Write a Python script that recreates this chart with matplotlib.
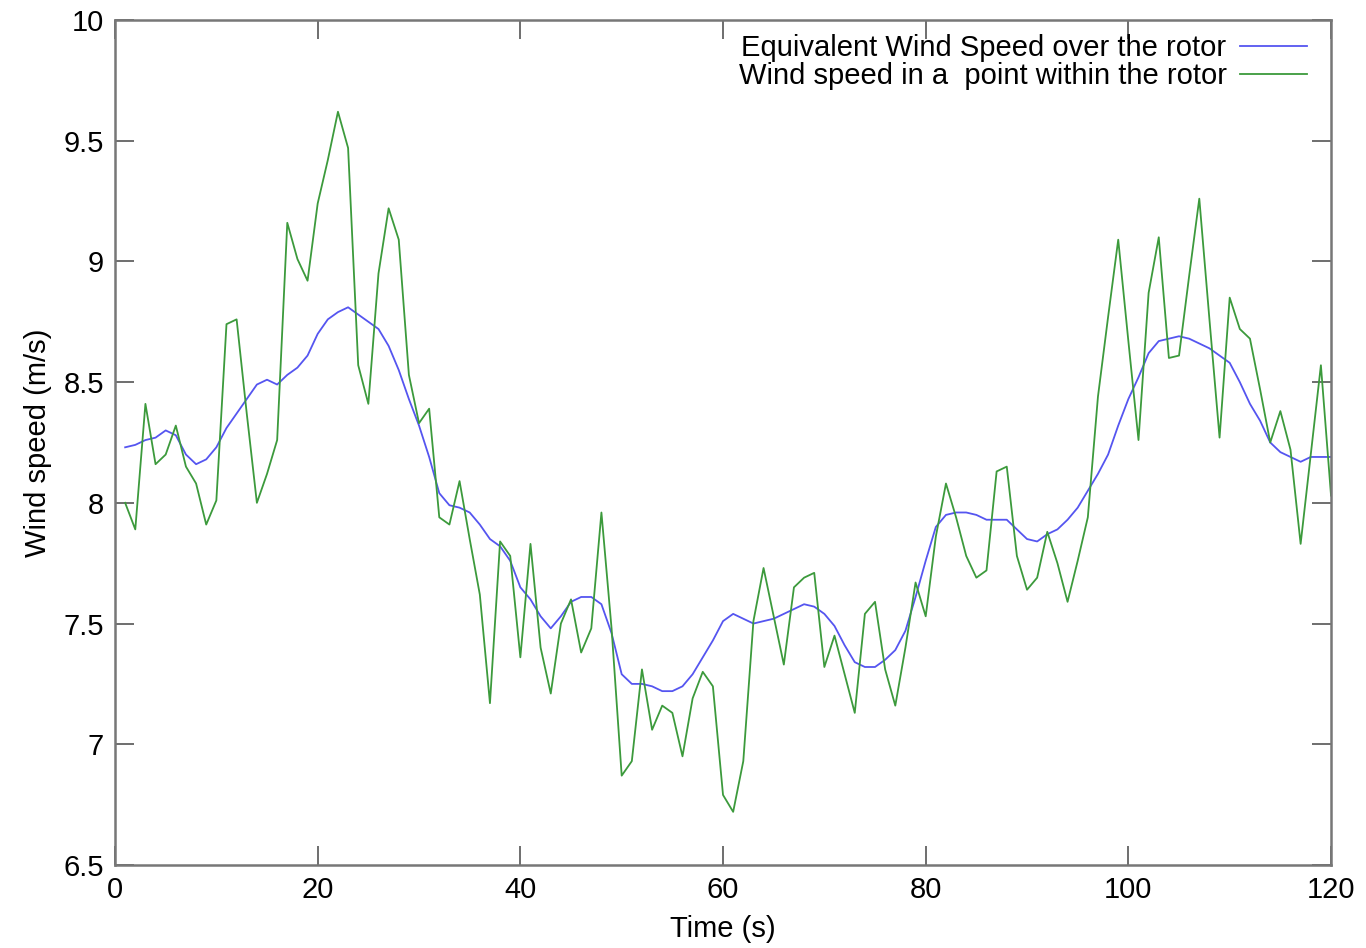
import matplotlib
matplotlib.use("Agg")
import matplotlib.pyplot as plt
from matplotlib.ticker import FormatStrFormatter

plt.rcParams['font.family'] = ['Liberation Sans', 'DejaVu Sans']

# time in seconds
time_s = list(range(1, 121))

# equivalent wind speed over the rotor (blue)
equiv_speed = [
    8.23, 8.24, 8.26, 8.27, 8.30, 8.28, 8.20, 8.16, 8.18, 8.23,
    8.31, 8.37, 8.43, 8.49, 8.51, 8.49, 8.53, 8.56, 8.61, 8.70,
    8.76, 8.79, 8.81, 8.78, 8.75, 8.72, 8.65, 8.55, 8.43, 8.32,
    8.19, 8.04, 7.99, 7.98, 7.96, 7.91, 7.85, 7.82, 7.76, 7.65,
    7.60, 7.53, 7.48, 7.53, 7.59, 7.61, 7.61, 7.58, 7.46, 7.29,
    7.25, 7.25, 7.24, 7.22, 7.22, 7.24, 7.29, 7.36, 7.43, 7.51,
    7.54, 7.52, 7.50, 7.51, 7.52, 7.54, 7.56, 7.58, 7.57, 7.54,
    7.49, 7.41, 7.34, 7.32, 7.32, 7.35, 7.39, 7.47, 7.61, 7.76,
    7.90, 7.95, 7.96, 7.96, 7.95, 7.93, 7.93, 7.93, 7.89, 7.85,
    7.84, 7.87, 7.89, 7.93, 7.98, 8.05, 8.12, 8.20, 8.32, 8.43,
    8.52, 8.62, 8.67, 8.68, 8.69, 8.68, 8.66, 8.64, 8.61, 8.58,
    8.50, 8.41, 8.34, 8.25, 8.21, 8.19, 8.17, 8.19, 8.19, 8.19,
]

# wind speed at one point within the rotor (green)
point_speed = [
    8.00, 7.89, 8.41, 8.16, 8.20, 8.32, 8.15, 8.08, 7.91, 8.01,
    8.74, 8.76, 8.37, 8.00, 8.12, 8.26, 9.16, 9.01, 8.92, 9.24,
    9.42, 9.62, 9.47, 8.57, 8.41, 8.95, 9.22, 9.09, 8.53, 8.33,
    8.39, 7.94, 7.91, 8.09, 7.85, 7.62, 7.17, 7.84, 7.78, 7.36,
    7.83, 7.40, 7.21, 7.50, 7.60, 7.38, 7.48, 7.96, 7.48, 6.87,
    6.93, 7.31, 7.06, 7.16, 7.13, 6.95, 7.19, 7.30, 7.24, 6.79,
    6.72, 6.93, 7.51, 7.73, 7.53, 7.33, 7.65, 7.69, 7.71, 7.32,
    7.45, 7.29, 7.13, 7.54, 7.59, 7.31, 7.16, 7.40, 7.67, 7.53,
    7.86, 8.08, 7.94, 7.78, 7.69, 7.72, 8.13, 8.15, 7.78, 7.64,
    7.69, 7.88, 7.75, 7.59, 7.76, 7.94, 8.44, 8.77, 9.09, 8.67,
    8.26, 8.87, 9.10, 8.60, 8.61, 8.94, 9.26, 8.76, 8.27, 8.85,
    8.72, 8.68, 8.47, 8.25, 8.38, 8.22, 7.83, 8.20, 8.57, 8.03,
]

x_ticks = [0, 20, 40, 60, 80, 100, 120]
y_ticks = [6.5, 7, 7.5, 8, 8.5, 9, 9.5, 10]

fig = plt.figure(figsize=(13.66, 9.48), dpi=100)
ax = fig.add_axes([0.0842, 0.0876, 0.8902, 0.8913])

ax.plot(time_s, equiv_speed, color='#5555f0', lw=1.3,
        label='Equivalent Wind Speed over the rotor')
ax.plot(time_s, point_speed, color='#3c9a3c', lw=1.3,
        label='Wind speed in a  point within the rotor')

ax.set_xlim(0, 120)
ax.set_ylim(6.5, 10)
ax.set_xticks(x_ticks)
ax.set_yticks(y_ticks)
ax.yaxis.set_major_formatter(FormatStrFormatter('%g'))

ax.tick_params(direction='in', length=14, width=1.2, colors='#555555',
               labelcolor='black', labelsize=21, top=True, right=True, pad=8)
for s in ax.spines.values():
    s.set_color('#777777')
    s.set_linewidth(1.8)

ax.set_xlabel('Time (s)', fontsize=21, labelpad=8)
ax.set_ylabel('Wind speed (m/s)', fontsize=21, labelpad=8)

ax.legend(loc='upper right', frameon=False, markerfirst=False, fontsize=21,
          handlelength=2.3, handletextpad=0.45, labelspacing=0.0,
          borderpad=0, borderaxespad=0, bbox_to_anchor=(0.980, 0.983))

fig.savefig('out.png', dpi=100)
